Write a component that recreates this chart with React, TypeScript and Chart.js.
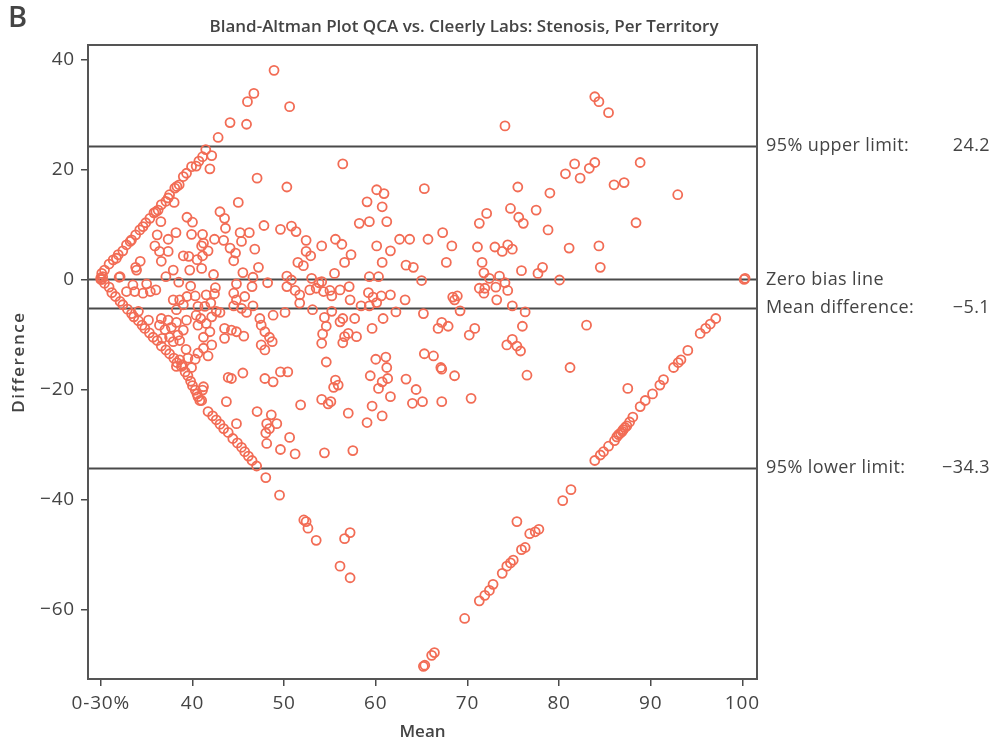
import React, { useEffect, useRef } from 'react';
import { Chart, registerables } from 'chart.js';

Chart.register(...registerables);

// ---- axis / label data ----
const xTicks = [30, 40, 50, 60, 70, 80, 90, 100];
const xTickLabels = ['0-30%', '40', '50', '60', '70', '80', '90', '100'];
const yTicks = [-60, -40, -20, 0, 20, 40];
const yTickLabels = ['−60', '−40', '−20', '0', '20', '40'];
const refValues = [24.2, 0, -5.1, -34.3];
const refLabels = ['95% upper limit:', 'Zero bias line', 'Mean difference:', '95% lower limit:'];
const refValueLabels = ['24.2', '', '−5.1', '−34.3'];

// ---- points: [mean, difference] ----
const diagUpperLeft = [
  [30.0, 0.0], [30.0, 0.3], [30.1, 0.0], [30.2, 0.5], [30.1, 1.1], [30.4, 1.7], [30.9, 2.8], [31.35, 3.55],
  [31.7, 3.85], [31.9, 4.5], [32.4, 5.2], [32.8, 6.3], [33.2, 6.9], [33.35, 7.2], [33.8, 8.1], [34.25, 9.0],
  [34.6, 9.6], [34.9, 10.3], [35.35, 11.1], [35.8, 12.1], [36.0, 12.3], [36.25, 12.6], [36.6, 13.6],
  [37.1, 14.2], [37.35, 14.8], [37.5, 15.4], [38.07, 16.6], [38.3, 16.9], [38.55, 17.2], [39.0, 18.7],
  [39.35, 19.3], [39.9, 20.5], [40.4, 20.6], [40.7, 21.5], [41.1, 22.3], [41.45, 23.6], [42.1, 22.5],
  [42.8, 25.8], [44.1, 28.5], [46.0, 32.3], [46.7, 33.8], [48.9, 38.0],
];
const diagLowerLeft = [
  [30.4, -0.7], [30.9, -1.4], [31.2, -2.4], [31.6, -3.1], [32.1, -4.0], [32.4, -4.6], [32.9, -5.4],
  [33.35, -6.2], [33.6, -6.8], [34.1, -7.5], [34.5, -8.3], [34.8, -8.9], [35.3, -9.7], [35.7, -10.5],
  [36.15, -11.1], [36.6, -12.1], [37.1, -12.8], [37.5, -13.5], [37.96, -14.3], [38.3, -15.1], [38.8, -15.8],
  [39.2, -16.8], [39.5, -17.5], [39.8, -18.5], [40.0, -19.3], [40.3, -20.1], [40.5, -20.8], [40.8, -22.0],
  [41.7, -24.0], [42.2, -24.8], [42.6, -25.5], [43.0, -26.3], [43.4, -27.1], [43.9, -27.8], [44.4, -28.9],
  [44.9, -29.7], [45.35, -30.5], [45.7, -31.3], [46.1, -32.1], [46.5, -32.9], [47.0, -33.9], [48.0, -36.0],
  [49.5, -39.2], [52.15, -43.7], [52.4, -44.0], [52.6, -45.2], [53.5, -47.4], [56.1, -52.1], [57.2, -54.2],
];
const diagLowerRight = [
  [65.2, -70.3], [65.35, -70.1], [66.1, -68.3], [66.4, -67.8], [69.7, -61.6], [71.3, -58.4], [71.9, -57.4],
  [72.4, -56.5], [72.8, -55.4], [73.8, -53.4], [74.3, -52.1], [74.7, -51.5], [75.0, -51.0], [75.9, -49.1],
  [76.3, -48.7], [76.8, -46.2], [77.4, -45.85], [77.8, -45.4], [80.4, -40.2], [81.3, -38.2], [83.9, -32.9],
  [84.5, -31.9], [84.85, -31.3], [85.4, -30.3], [86.05, -29.3], [86.3, -28.6], [86.5, -28.2], [86.7, -27.9],
  [86.9, -27.6], [87.0, -27.3], [87.2, -26.9], [87.4, -26.6], [87.7, -25.9], [88.05, -25.0], [88.85, -23.1],
  [89.4, -22.0], [90.2, -20.8], [91.0, -19.2], [91.4, -18.2], [92.5, -16.0], [93.0, -15.1], [93.3, -14.6],
  [94.05, -12.9], [95.4, -9.8], [96.0, -8.9], [96.5, -8.1], [97.1, -7.1], [100.2, 0.0], [100.3, 0.2],
];
const diagUpperRight = [[83.9, 33.2], [84.35, 32.3], [85.4, 30.3]];
const cloudLeft = [
  [45.9, 28.2], [41.9, 20.1], [47.05, 18.4], [45.0, 14.0], [43.0, 12.3], [43.5, 11.1], [43.6, 9.3],
  [39.4, 11.3], [40.0, 10.4], [47.8, 9.8], [45.2, 8.5], [46.2, 8.5], [45.35, 6.9], [46.8, 5.5], [43.4, 7.1],
  [42.4, 7.3], [41.1, 8.2], [39.9, 8.2], [38.2, 8.5], [37.35, 7.3], [35.9, 6.1], [36.4, 5.1], [37.35, 5.1],
  [36.6, 3.3], [34.3, 3.3], [33.8, 2.2], [32.0, 0.4], [39.0, 4.3], [39.6, 4.2], [40.5, 3.6], [41.1, 4.3],
  [41.7, 5.2], [41.0, 6.1], [41.2, 6.6], [39.7, 1.7], [41.0, 2.0], [42.3, 0.9], [37.1, 0.5], [37.9, 1.7],
  [44.1, 5.7], [44.7, 4.8], [44.5, 3.4], [45.5, 1.25], [47.2, 2.2], [46.6, 0.4], [36.15, 8.1], [36.55, 10.5],
  [38.0, 14.0], [33.9, 1.7], [32.1, 0.5],
  [33.5, -1.0], [35.0, -0.8], [38.5, -0.5], [39.8, -1.2], [42.5, -1.5], [44.8, -0.8], [46.5, -1.3], [48.2, -0.6],
  [32.8, -2.2], [33.7, -2.2], [34.6, -2.5], [35.4, -2.2], [36.0, -1.9], [37.9, -3.7], [38.6, -3.7], [39.4, -3.1],
  [40.3, -3.0], [41.5, -2.8], [42.4, -2.6], [42.0, -4.3], [41.35, -4.9], [40.6, -4.9], [39.0, -4.6],
  [38.25, -5.5], [34.1, -5.8], [35.2, -7.4], [36.6, -7.1], [37.35, -7.4], [36.4, -8.3], [37.0, -9.1],
  [37.7, -8.7], [38.25, -7.8], [39.0, -9.2], [39.35, -7.4], [38.4, -10.1], [37.5, -10.5], [36.7, -10.7],
  [37.9, -11.3], [38.6, -11.1], [39.3, -12.7], [39.5, -14.3], [38.9, -15.5], [38.25, -15.8], [38.6, -14.6],
  [39.9, -16.0], [40.3, -14.5], [40.6, -13.4], [41.2, -12.5], [41.7, -13.9], [42.1, -11.9], [41.2, -10.5],
  [40.6, -8.3], [40.9, -7.1], [40.4, -6.5], [42.1, -6.8], [41.5, -8.0], [41.9, -9.5], [41.2, -19.5],
  [41.1, -20.1], [40.6, -21.3], [41.0, -22.0], [42.6, -5.8], [43.5, -8.9], [43.5, -10.7], [43.0, -6.0],
  [44.25, -9.2], [44.8, -9.5], [45.6, -10.3], [44.5, -4.8], [45.35, -5.25], [45.9, -6.0], [47.35, -7.1],
  [48.8, -6.5], [47.5, -8.3], [47.9, -9.5], [48.4, -10.5], [48.7, -11.3], [47.9, -12.8], [47.5, -11.9],
  [44.25, -18.0], [43.9, -17.8], [45.5, -17.0], [43.7, -22.2], [44.8, -26.2], [47.05, -24.0], [48.6, -24.6],
  [48.1, -26.2], [48.4, -27.1], [49.2, -26.2], [48.1, -29.8], [48.0, -27.9], [47.9, -18.0], [48.8, -18.6],
  [44.5, -2.5], [45.7, -3.1], [44.8, -3.7], [46.6, -4.8],
];
const cloudCenter = [
  [50.6, 31.4], [74.1, 27.9], [56.4, 21.0], [50.3, 16.8], [65.3, 16.5], [75.5, 16.8], [60.1, 16.3],
  [60.9, 15.6], [59.05, 14.1], [60.7, 13.2], [74.7, 12.9], [72.1, 12.0], [71.3, 10.2], [58.2, 10.2],
  [59.3, 10.5], [61.2, 10.5], [75.6, 11.3], [76.1, 10.2], [50.8, 9.7], [51.3, 8.7], [49.6, 9.1], [52.4, 7.1],
  [54.1, 6.1], [55.6, 7.3], [56.3, 6.4], [60.1, 6.1], [61.6, 5.2], [62.6, 7.3], [63.7, 7.3], [65.7, 7.3],
  [67.3, 8.5], [68.3, 6.1], [71.1, 5.9], [73.0, 5.9], [73.8, 5.1], [74.4, 6.3], [74.9, 5.5], [52.4, 5.1],
  [52.9, 4.3], [57.3, 4.5], [56.6, 3.1], [60.7, 3.1], [63.3, 2.6], [64.1, 2.2], [67.7, 3.1], [71.6, 3.1],
  [75.9, 1.6], [51.5, 3.1], [52.1, 2.5], [50.3, 0.6], [50.8, -0.1], [53.0, 0.2], [53.8, -0.6], [55.5, 1.1],
  [59.3, 0.5], [60.3, 0.5], [65.0, -0.2], [71.8, 1.2], [72.4, 0.2], [73.5, 0.6], [74.1, -0.6], [74.4, -2.0],
  [71.9, -1.6], [71.3, -1.6], [73.1, -1.4], [71.8, -2.5], [73.2, -3.7], [74.9, -4.8], [76.3, -5.9],
  [50.3, -1.3], [51.2, -2.0], [51.7, -2.8], [52.8, -1.9], [53.5, -1.6], [54.1, -0.4], [54.3, -2.2],
  [55.0, -2.0], [55.2, -3.0], [56.1, -1.9], [57.1, -1.3], [57.2, -3.7], [58.4, -4.8], [59.2, -2.4],
  [59.7, -3.2], [60.1, -4.2], [60.6, -3.0], [61.6, -2.8], [63.2, -3.7], [50.1, -6.0], [51.7, -4.3],
  [53.1, -5.5], [54.4, -6.9], [55.2, -5.8], [54.6, -8.5], [54.2, -9.9], [54.1, -11.6], [56.1, -7.7],
  [56.4, -7.1], [56.6, -10.4], [57.0, -9.8], [56.4, -11.5], [57.9, -10.4], [57.7, -7.1], [59.3, -4.8],
  [59.6, -8.9], [60.8, -7.1], [62.2, -5.9], [65.2, -6.2], [66.8, -8.9], [67.9, -8.5], [67.2, -7.8],
  [68.4, -3.2], [68.9, -3.0], [69.2, -5.7], [70.2, -10.1], [70.8, -8.9], [68.6, -3.7], [76.0, -8.5],
  [74.3, -11.9], [74.9, -10.9], [75.4, -12.1], [75.8, -13.0], [76.5, -17.4], [65.3, -13.5], [66.3, -13.9],
  [67.1, -16.0], [67.2, -16.3], [68.6, -17.5], [70.4, -21.6], [60.0, -14.5], [61.1, -14.1], [61.2, -16.0],
  [61.3, -18.0], [60.7, -18.6], [60.3, -19.8], [59.4, -17.5], [61.6, -21.3], [63.3, -18.1], [64.4, -20.0],
  [64.0, -22.5], [65.1, -22.2], [67.2, -22.2], [59.6, -23.0], [59.05, -26.0], [60.7, -24.8], [54.6, -15.0],
  [55.6, -18.3], [55.9, -19.2], [55.4, -19.6], [54.1, -21.8], [54.8, -22.6], [55.1, -22.2], [51.8, -22.8],
  [57.0, -24.3], [54.4, -31.5], [57.5, -31.1], [49.6, -16.8], [50.4, -16.8], [50.6, -28.7], [51.2, -31.7],
  [49.6, -30.9],
];
const cloudRight = [
  [88.85, 21.25], [83.9, 21.25], [83.3, 20.2], [81.7, 21.0], [80.7, 19.2], [82.3, 18.4], [86.0, 17.2],
  [87.1, 17.6], [92.95, 15.4], [79.0, 15.7], [77.5, 12.6], [78.8, 9.0], [88.4, 10.3], [81.1, 5.7],
  [84.35, 6.1], [78.2, 2.2], [77.7, 1.1], [80.05, -0.1], [84.5, 2.2], [83.0, -8.3], [81.2, -16.0], [87.5, -19.8],
];
const cloudLow = [[56.6, -47.1], [57.2, -46.0], [75.4, -44.0]];

const allPoints = [
  ...diagUpperLeft, ...diagLowerLeft, ...diagLowerRight, ...diagUpperRight,
  ...cloudLeft, ...cloudCenter, ...cloudRight, ...cloudLow,
];

const TEXT = '#444444';
const LINE = '#4a4a4a';
const POINT = '#F26C55';
const FONT = '"Open Sans", "Noto Sans", sans-serif';

const overlay = {
  id: 'overlay',
  beforeDraw(chart: any) {
    chart.ctx.letterSpacing = '0.8px';
  },
  beforeDatasetsDraw(chart: any) {
    const { ctx, chartArea, scales } = chart;
    ctx.save();
    ctx.strokeStyle = LINE;
    ctx.lineWidth = 1.8;
    refValues.forEach((v) => {
      const y = Math.round(scales.y.getPixelForValue(v)) + 0.5;
      ctx.beginPath();
      ctx.moveTo(chartArea.left, y);
      ctx.lineTo(chartArea.right, y);
      ctx.stroke();
    });
    ctx.restore();
  },
  afterDraw(chart: any) {
    const { ctx, chartArea, scales } = chart;
    ctx.save();
    // frame
    ctx.strokeStyle = '#555555';
    ctx.lineWidth = 2;
    ctx.strokeRect(chartArea.left, chartArea.top, chartArea.right - chartArea.left, chartArea.bottom - chartArea.top);
    // reference labels
    ctx.fillStyle = TEXT;
    ctx.letterSpacing = '0.4px';
    ctx.font = `18px ${FONT}`;
    ctx.textBaseline = 'middle';
    refValues.forEach((v, i) => {
      const y = scales.y.getPixelForValue(v);
      ctx.textAlign = 'left';
      ctx.fillText(refLabels[i], chartArea.right + 9, y);
      if (refValueLabels[i]) {
        ctx.textAlign = 'right';
        ctx.fillText(refValueLabels[i], 990, y);
      }
    });
    // panel letter
    ctx.letterSpacing = '0px';
    ctx.textAlign = 'left';
    ctx.font = `600 29px ${FONT}`;
    ctx.fillText('B', 8, 19);
    // title
    ctx.textAlign = 'center';
    ctx.font = `600 17px ${FONT}`;
    ctx.fillText('Bland-Altman Plot QCA vs. Cleerly Labs: Stenosis, Per Territory', 464, 27);
    // axis titles
    ctx.font = `600 17px ${FONT}`;
    ctx.fillText('Mean', (chartArea.left + chartArea.right) / 2, 732);
    ctx.letterSpacing = '1.6px';
    ctx.translate(19, (chartArea.top + chartArea.bottom) / 2);
    ctx.rotate(-Math.PI / 2);
    ctx.fillText('Difference', 0, 0);
    ctx.restore();
  },
};

export default function App() {
  const ref = useRef<HTMLCanvasElement | null>(null);
  useEffect(() => {
    if (!ref.current) return;
    const chart = new Chart(ref.current, {
      type: 'scatter',
      data: {
        datasets: [
          {
            data: allPoints.map(([x, y]) => ({ x, y })),
            pointStyle: 'circle',
            pointRadius: 4.5,
            pointBorderWidth: 1.8,
            pointBackgroundColor: 'rgba(0,0,0,0)',
            pointBorderColor: POINT,
            showLine: false,
          },
        ],
      },
      options: {
        responsive: false,
        animation: false,
        devicePixelRatio: 1,
        events: [],
        layout: { padding: { left: 28, right: 237, top: 45, bottom: 27 } },
        plugins: { legend: { display: false }, tooltip: { enabled: false }, title: { display: false } },
        scales: {
          x: {
            type: 'linear',
            min: 28.6,
            max: 101.6,
            afterBuildTicks: (s: any) => { s.ticks = xTicks.map((v) => ({ value: v })); },
            afterFit: (s: any) => { s.height = 40; },
            ticks: {
              color: TEXT,
              font: { family: FONT, size: 19 },
              padding: 6,
              maxRotation: 0,
              autoSkip: false,
              callback: (v: any) => xTickLabels[xTicks.indexOf(Number(v))] ?? '',
            },
            grid: { display: true, drawOnChartArea: false, drawTicks: true, tickLength: 7, color: LINE, lineWidth: 1.5 },
            border: { display: false },
          },
          y: {
            type: 'linear',
            min: -72.6,
            max: 42.6,
            afterBuildTicks: (s: any) => { s.ticks = yTicks.map((v) => ({ value: v })); },
            afterFit: (s: any) => { s.width = 60; },
            ticks: {
              color: TEXT,
              font: { family: FONT, size: 19 },
              padding: 6,
              autoSkip: false,
              callback: (v: any) => yTickLabels[yTicks.indexOf(Number(v))] ?? '',
            },
            grid: { display: true, drawOnChartArea: false, drawTicks: true, tickLength: 7, color: LINE, lineWidth: 1.5 },
            border: { display: false },
          },
        },
      },
      plugins: [overlay],
    });
    return () => chart.destroy();
  }, []);
  return (
    <div style={{ position: 'fixed', left: 0, top: 0, width: 994, height: 746, background: '#fff' }}>
      <canvas ref={ref} width={994} height={746} style={{ width: 994, height: 746, display: 'block' }} />
    </div>
  );
}
